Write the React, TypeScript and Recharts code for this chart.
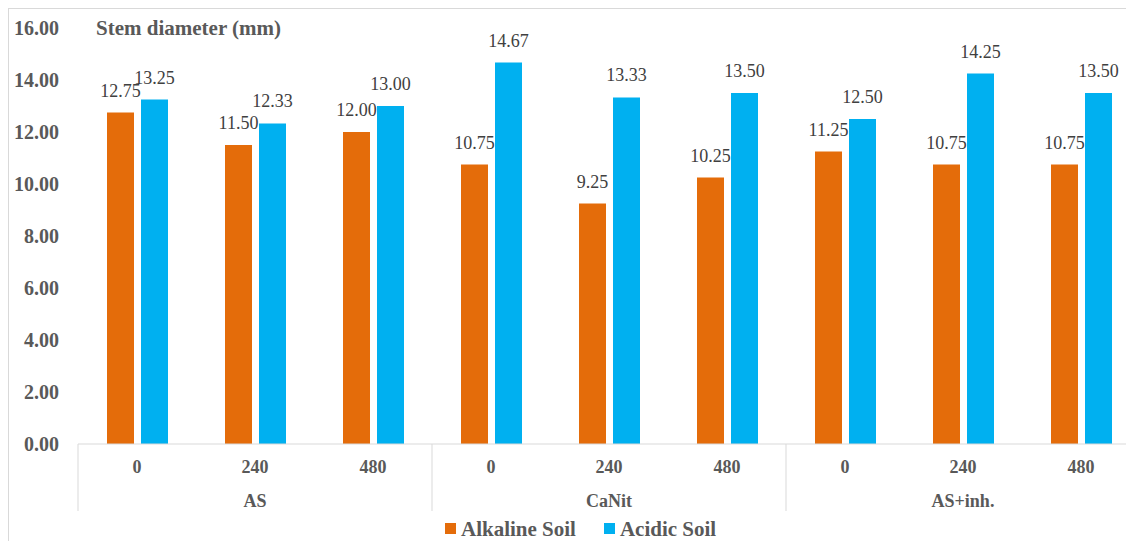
import { Bar, BarChart, LabelList, Legend, XAxis, YAxis } from 'recharts';

const doses = ['0', '240', '480', '0', '240', '480', '0', '240', '480'];
const groups = ['AS', 'CaNit', 'AS+inh.'];
const alkalineSoil = [12.75, 11.5, 12.0, 10.75, 9.25, 10.25, 11.25, 10.75, 10.75];
const acidicSoil = [13.25, 12.33, 13.0, 14.67, 13.33, 13.5, 12.5, 14.25, 13.5];
const yTicks = [0, 2, 4, 6, 8, 10, 12, 14, 16];

const data = doses.map((dose, i) => ({
  id: i,
  dose,
  group: groups[Math.floor(i / 3)],
  alkaline: alkalineSoil[i],
  acidic: acidicSoil[i],
}));

const SERIF = "'Liberation Serif', 'Times New Roman', serif";
const TEXT = '#595959';
const ORANGE = '#E46C0A';
const BLUE = '#00B0F0';
const GRID = '#d9d9d9';

const CHART_W = 1136;
const Y_W = 69;
const RIGHT = 5;
const BAND = (CHART_W - Y_W - RIGHT) / doses.length;

function CategoryTick({ x, y, index }: any) {
  const row = data[index];
  return (
    <g>
      <text
        x={x}
        y={y + 23}
        textAnchor="middle"
        dominantBaseline="central"
        fontFamily={SERIF}
        fontWeight="bold"
        fontSize={18}
        fill={TEXT}
      >
        {row.dose}
      </text>
      {index % 3 === 1 && (
        <text
          x={x}
          y={y + 57}
          textAnchor="middle"
          dominantBaseline="central"
          fontFamily={SERIF}
          fontWeight="bold"
          fontSize={18}
          fill={TEXT}
        >
          {row.group}
        </text>
      )}
      {index % 3 === 0 && (
        <line x1={x - BAND / 2} x2={x - BAND / 2} y1={y} y2={y + 67} stroke={GRID} />
      )}
      {index === doses.length - 1 && (
        <line x1={x + BAND / 2} x2={x + BAND / 2} y1={y} y2={y + 67} stroke={GRID} />
      )}
    </g>
  );
}

function LegendContent() {
  const items = [
    { label: 'Alkaline Soil', color: ORANGE },
    { label: 'Acidic Soil', color: BLUE },
  ];
  return (
    <div
      style={{
        display: 'flex',
        alignItems: 'flex-end',
        height: 24,
        paddingLeft: 436,
        boxSizing: 'border-box',
      }}
    >
      {items.map((it, i) => (
        <div
          key={it.label}
          style={{ display: 'flex', alignItems: 'flex-end', marginRight: i === 0 ? 28 : 0 }}
        >
          <span
            style={{
              width: 11,
              height: 11,
              background: it.color,
              marginRight: 5,
              marginBottom: 7,
            }}
          />
          <span
            style={{
              fontFamily: SERIF,
              fontWeight: 'bold',
              fontSize: 21,
              color: TEXT,
              lineHeight: '23px',
            }}
          >
            {it.label}
          </span>
        </div>
      ))}
    </div>
  );
}

export default function App() {
  return (
    <div
      style={{
        position: 'relative',
        width: 1126,
        height: 533,
        boxSizing: 'border-box',
        borderLeft: `1px solid ${GRID}`,
        borderTop: `1px solid ${GRID}`,
        overflow: 'hidden',
        background: '#fff',
      }}
    >
      <div
        style={{
          position: 'absolute',
          left: 87,
          top: 7,
          lineHeight: '24px',
          fontFamily: SERIF,
          fontWeight: 'bold',
          fontSize: 21,
          color: TEXT,
          zIndex: 1,
        }}
      >
        Stem diameter (mm)
      </div>
      <BarChart
        width={CHART_W}
        height={532}
        data={data}
        margin={{ top: 19, right: RIGHT, left: 0, bottom: 0 }}
        barSize={27}
        barGap={7}
      >
        <XAxis
          dataKey="id"
          interval={0}
          tickLine={false}
          tickSize={0}
          tickMargin={0}
          height={73}
          axisLine={{ stroke: GRID }}
          tick={<CategoryTick />}
        />
        <YAxis
          width={Y_W}
          domain={[0, 16]}
          ticks={yTicks}
          axisLine={false}
          tickLine={false}
          tickSize={0}
          tickMargin={19}
          tickFormatter={(v: number) => v.toFixed(2)}
          tick={{ fontFamily: SERIF, fontWeight: 'bold', fontSize: 20, fill: TEXT }}
        />
        <Legend
          verticalAlign="bottom"
          align="left"
          content={<LegendContent />}
          wrapperStyle={{ left: 0, width: CHART_W, height: 24 }}
        />
        <Bar dataKey="alkaline" name="Alkaline Soil" fill={ORANGE} isAnimationActive={false}>
          <LabelList
            dataKey="alkaline"
            position="top"
            offset={16}
            formatter={(v: any) => Number(v).toFixed(2)}
            style={{ fontFamily: SERIF, fontSize: 18, fill: '#404040' }}
          />
        </Bar>
        <Bar dataKey="acidic" name="Acidic Soil" fill={BLUE} isAnimationActive={false}>
          <LabelList
            dataKey="acidic"
            position="top"
            offset={16}
            formatter={(v: any) => Number(v).toFixed(2)}
            style={{ fontFamily: SERIF, fontSize: 18, fill: '#404040' }}
          />
        </Bar>
      </BarChart>
    </div>
  );
}
